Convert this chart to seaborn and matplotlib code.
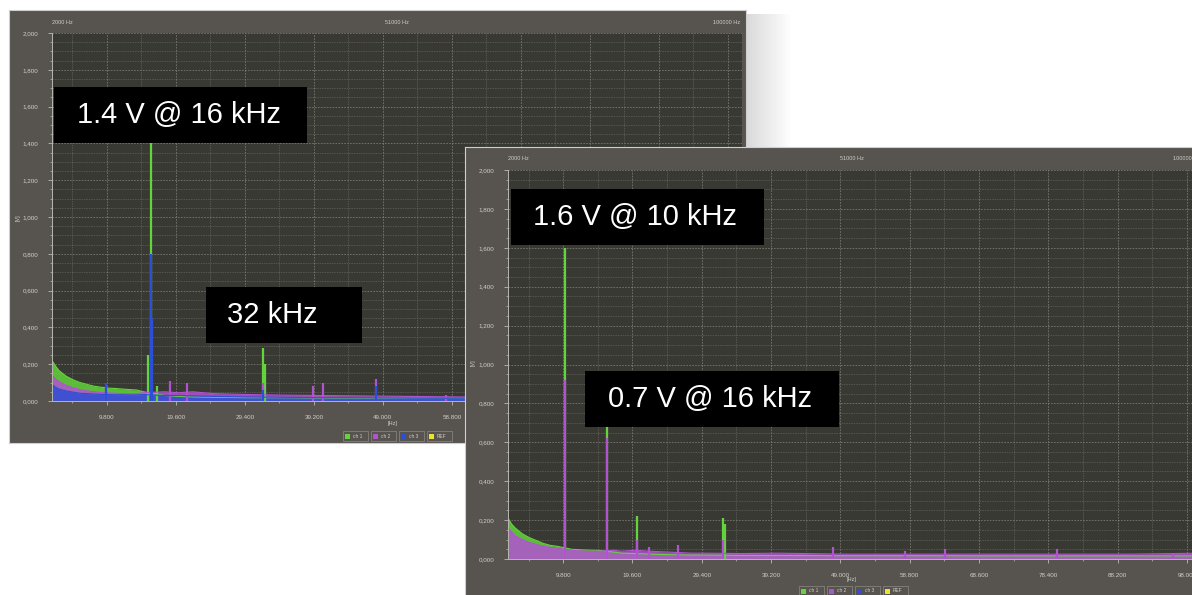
import numpy as np
import matplotlib
matplotlib.use("Agg")
import matplotlib.pyplot as plt
from matplotlib.patches import Rectangle
import seaborn as sns

sns.set_theme(style="dark")
plt.rcParams['font.family'] = ['Liberation Sans', 'DejaVu Sans']

W, H = 1192, 595

# ---------- data ----------
x_tick_hz = [9800, 19600, 29400, 39200, 49000, 58800, 68600, 78400, 88200, 98000]
x_tick_labels = ["9.800", "19.600", "29.400", "39.200", "49.000", "58.800",
                 "68.600", "78.400", "88.200", "98.000"]
y_tick_v = [0.0, 0.2, 0.4, 0.6, 0.8, 1.0, 1.2, 1.4, 1.6, 1.8, 2.0]
y_tick_labels = ["0,000", "0,200", "0,400", "0,600", "0,800", "1,000",
                 "1,200", "1,400", "1,600", "1,800", "2,000"]
header_labels = ["2000 Hz", "51000 Hz", "100000 Hz"]
legend_labels = ["ch 1", "ch 2", "ch 3", "REF"]

# left screenshot (1.4 V @ 16 kHz)
left_floor_hz = [2000, 2500, 3000, 4000, 5000, 6000, 7000, 8000, 9000, 10000,
                 11000, 12000, 13000, 14000, 15000, 18000, 20000, 22000, 25000,
                 30000, 35000, 40000, 45000, 50000, 55000, 60000, 70000, 80000, 100000]
left_ch1_floor = [0.22, 0.19, 0.165, 0.135, 0.115, 0.10, 0.09, 0.08, 0.075, 0.07,
                  0.068, 0.065, 0.062, 0.06, 0.05, 0.03, 0.025, 0.022, 0.02,
                  0.018, 0.018, 0.016, 0.016, 0.015, 0.015, 0.015, 0.014, 0.014, 0.014]
left_ch2_floor = [0.14, 0.12, 0.105, 0.085, 0.072, 0.062, 0.055, 0.05, 0.046, 0.044,
                  0.042, 0.04, 0.04, 0.04, 0.045, 0.05, 0.045, 0.05, 0.04,
                  0.035, 0.032, 0.03, 0.028, 0.026, 0.024, 0.022, 0.02, 0.02, 0.02]
left_ch3_floor = [0.09, 0.075, 0.065, 0.055, 0.048, 0.042, 0.04, 0.038, 0.036, 0.035,
                  0.034, 0.034, 0.033, 0.033, 0.035, 0.03, 0.03, 0.028, 0.025,
                  0.022, 0.02, 0.018, 0.018, 0.016, 0.015, 0.015, 0.015, 0.015, 0.015]
left_ch1_peak_hz = [15600, 16000, 16900, 32000, 32300]
left_ch1_peak_v = [0.25, 1.40, 0.08, 0.29, 0.20]
left_ch2_peak_hz = [9600, 16000, 18700, 21200, 32000, 39000, 40500, 48000, 58000]
left_ch2_peak_v = [0.07, 0.30, 0.11, 0.10, 0.10, 0.08, 0.10, 0.12, 0.03]
left_ch3_peak_hz = [9600, 16000, 16200, 32000, 48000]
left_ch3_peak_v = [0.10, 0.80, 0.45, 0.06, 0.08]

# right screenshot (1.6 V @ 10 kHz, 0.7 V @ 16 kHz)
right_floor_hz = [2000, 2500, 3000, 4000, 5000, 6000, 7000, 8000, 9000, 11000,
                  12000, 13000, 14000, 15000, 17000, 18000, 20000, 22000, 25000,
                  28000, 30000, 35000, 40000, 50000, 60000, 70000, 80000, 90000, 100000]
right_ch1_floor = [0.21, 0.18, 0.16, 0.13, 0.11, 0.095, 0.08, 0.07, 0.065, 0.05,
                   0.048, 0.046, 0.045, 0.044, 0.035, 0.03, 0.028, 0.025, 0.022,
                   0.02, 0.02, 0.018, 0.018, 0.017, 0.017, 0.016, 0.016, 0.016, 0.016]
right_ch2_floor = [0.16, 0.14, 0.12, 0.10, 0.085, 0.075, 0.065, 0.06, 0.055, 0.045,
                   0.042, 0.04, 0.04, 0.04, 0.045, 0.04, 0.045, 0.04, 0.035,
                   0.03, 0.03, 0.028, 0.03, 0.025, 0.025, 0.025, 0.025, 0.025, 0.03]
right_ch1_peak_hz = [10000, 16000, 20200, 32400, 32700]
right_ch1_peak_v = [1.60, 0.70, 0.22, 0.21, 0.18]
right_ch2_peak_hz = [10000, 16000, 20200, 22000, 26000, 32400, 48000, 58200, 63800, 79700, 96000]
right_ch2_peak_v = [0.92, 0.62, 0.10, 0.06, 0.07, 0.10, 0.06, 0.04, 0.05, 0.05, 0.03]

GREEN, MAGENTA, BLUE, YELLOW = '#63d43c', '#b252d2', '#2d4fd6', '#efe22a'
FRAME, PLOT_BG, GRID, TXT = '#57534f', '#393934', '#8d8d84', '#cfcfc6'


def px_rect(x0, y0, x1, y1):
    return [x0 / W, 1 - y1 / H, (x1 - x0) / W, (y1 - y0) / H]


def draw_panel(fig, frame_box, plot_box, traces):
    fr = fig.add_axes(px_rect(*frame_box))
    fr.set_facecolor(FRAME)
    fr.set_xticks([])
    fr.set_yticks([])
    for s in fr.spines.values():
        s.set_edgecolor('#cfcfcf')
        s.set_linewidth(0.8)

    ax = fig.add_axes(px_rect(*plot_box))
    ax.set_facecolor(PLOT_BG)
    for floor_hz, floor_v, peak_hz, peak_v, color in traces:
        ax.fill_between(floor_hz, 0, floor_v, color=color, alpha=0.85, lw=0)
        sns.lineplot(x=floor_hz, y=floor_v, color=color, lw=0.8, ax=ax)
        ax.vlines(peak_hz, 0, peak_v, color=color, lw=1.6)

    ax.set_xlim(2000, 100000)
    ax.set_ylim(0, 2.0)
    ax.set_xticks(x_tick_hz)
    ax.set_xticklabels(x_tick_labels)
    ax.set_xticks(np.arange(4900, 100000, 9800), minor=True)
    ax.set_yticks(y_tick_v)
    ax.set_yticklabels(y_tick_labels)
    ax.set_yticks(np.arange(0, 2.0, 0.05), minor=True)
    ax.grid(which='major', color=GRID, linestyle=(0, (2, 1.5)), lw=0.6, alpha=0.75)
    ax.grid(which='minor', color=GRID, linestyle=(0, (2, 1.5)), lw=0.5, alpha=0.5)
    ax.tick_params(which='major', length=3, width=0.6, colors='#b8b8b0',
                   labelsize=4.5, labelcolor=TXT, pad=7, bottom=True, left=True)
    ax.tick_params(which='minor', length=1.5, width=0.5, colors='#b8b8b0',
                   bottom=True, left=True)
    for side in ['top', 'right']:
        ax.spines[side].set_visible(False)
    for side in ['left', 'bottom']:
        ax.spines[side].set_color('#b8b8b0')
        ax.spines[side].set_linewidth(0.7)
    return ax


fig = plt.figure(figsize=(W / 100, H / 100), dpi=100)
fig.patch.set_facecolor('white')

# soft drop shadow behind the first screenshot
bg = fig.add_axes([0, 0, 1, 1])
bg.set_xlim(0, W)
bg.set_ylim(H, 0)
bg.axis('off')
shade = np.linspace(0.85, 1.0, 64)[None, :]
bg.imshow(shade, cmap='gray', vmin=0, vmax=1, aspect='auto',
          extent=(746, 792, 446, 14))

draw_panel(fig, (9, 10, 746, 443), (52, 33, 742, 401), [
    (left_floor_hz, left_ch1_floor, left_ch1_peak_hz, left_ch1_peak_v, GREEN),
    (left_floor_hz, left_ch2_floor, left_ch2_peak_hz, left_ch2_peak_v, MAGENTA),
    (left_floor_hz, left_ch3_floor, left_ch3_peak_hz, left_ch3_peak_v, BLUE),
])
draw_panel(fig, (465, 147, 1215, 620), (508, 170, 1201, 559), [
    (right_floor_hz, right_ch1_floor, right_ch1_peak_hz, right_ch1_peak_v, GREEN),
    (right_floor_hz, right_ch2_floor, right_ch2_peak_hz, right_ch2_peak_v, MAGENTA),
])

# overlay for headers, axis units, legends and the callout boxes
ov = fig.add_axes([0, 0, 1, 1])
ov.set_xlim(0, W)
ov.set_ylim(H, 0)
ov.axis('off')
ov.patch.set_alpha(0)

small = dict(color=TXT, fontsize=4, va='center')
for hx, lab, ha in zip([52, 397, 740], header_labels, ['left', 'center', 'right']):
    ov.text(hx, 22, lab, ha=ha, **small)
for hx, lab, ha in zip([508, 852, 1200], header_labels, ['left', 'center', 'right']):
    ov.text(hx, 158, lab, ha=ha, **small)
ov.text(18, 218, "[V]", rotation=90, ha='center', **small)
ov.text(473, 363, "[V]", rotation=90, ha='center', **small)
ov.text(393, 424, "[Hz]", ha='center', **small)
ov.text(852, 580, "[Hz]", ha='center', **small)

colors = [GREEN, MAGENTA, BLUE, YELLOW]
for lx0, ly in [(345, 436), (801, 591)]:
    for i, (lab, c) in enumerate(zip(legend_labels, colors)):
        x = lx0 + i * 28
        ov.add_patch(Rectangle((x - 2, ly - 5), 25, 10, fill=False,
                               edgecolor='#8a8a84', lw=0.5))
        ov.add_patch(Rectangle((x, ly - 2.5), 5, 5, color=c, lw=0))
        ov.text(x + 8, ly, lab, color=TXT, fontsize=3.5, va='center')

callouts = [
    ((54, 87, 307, 143), (179, 115), "1.4 V @ 16 kHz"),
    ((206, 287, 362, 343), (272, 315), "32 kHz"),
    ((511, 189, 764, 245), (635, 217), "1.6 V @ 10 kHz"),
    ((585, 371, 839, 427), (710, 399), "0.7 V @ 16 kHz"),
]
for (x0, y0, x1, y1), (tx, ty), lab in callouts:
    ov.add_patch(Rectangle((x0, y0), x1 - x0, y1 - y0, color='black', lw=0))
    ov.text(tx, ty, lab, color='white', fontsize=21, ha='center', va='center')

fig.savefig("out.png", dpi=100, facecolor=fig.get_facecolor())
